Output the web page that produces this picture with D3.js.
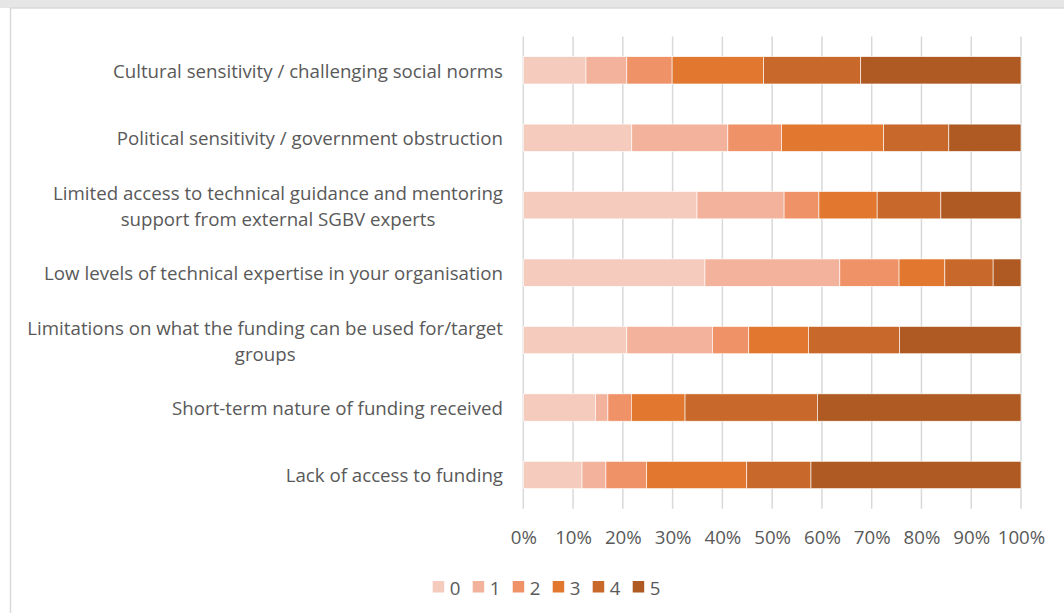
<!DOCTYPE html>
<html>
<head>
<meta charset="utf-8">
<script src="https://cdn.jsdelivr.net/npm/d3@7"></script>
<style>
  html, body { margin: 0; padding: 0; background: #fff; }
  svg { display: block; }
  text { font-family: "Open Sans", Lato, sans-serif; fill: #595959; }
</style>
</head>
<body>
<svg id="chart" width="1064" height="613"></svg>
<script>
// Barriers, top to bottom; each label split into its display lines
const categories = [
  ["Cultural sensitivity / challenging social norms"],
  ["Political sensitivity / government obstruction"],
  ["Limited access to technical guidance and mentoring", "support from external SGBV experts"],
  ["Low levels of technical expertise in your organisation"],
  ["Limitations on what the funding can be used for/target", "groups"],
  ["Short-term nature of funding received"],
  ["Lack of access to funding"]
];

// Share of responses (%) for each rating, one array per rating
const score0 = [12.6, 21.8, 34.9, 36.5, 20.8, 14.5, 11.8];
const score1 = [8.2, 19.3, 17.5, 27.1, 17.2, 2.5, 4.8];
const score2 = [9.1, 10.8, 7.0, 11.9, 7.3, 4.7, 8.2];
const score3 = [18.4, 20.5, 11.7, 9.2, 12.0, 10.8, 20.1];
const score4 = [19.5, 13.1, 12.8, 9.7, 18.3, 26.6, 12.9];
const score5 = [32.2, 14.5, 16.1, 5.6, 24.4, 40.9, 42.2];

const seriesNames = ["0", "1", "2", "3", "4", "5"];
const seriesValues = [score0, score1, score2, score3, score4, score5];
const tickValues = [0, 0.1, 0.2, 0.3, 0.4, 0.5, 0.6, 0.7, 0.8, 0.9, 1.0];

const colors = ["#f5cbbd", "#f2b29b", "#f09268", "#e2782f", "#c8682a", "#ae5a22"];

const svg = d3.select("#chart");
const W = 1064, H = 613;
const FONT = "'Open Sans', Lato, sans-serif";

// window chrome strip and chart frame
svg.append("rect").attr("x", 0).attr("y", 0).attr("width", W).attr("height", 8).attr("fill", "#e6e6e6");
svg.append("rect").attr("x", 10.5).attr("y", 8).attr("width", W + 20).attr("height", H + 20)
  .attr("fill", "#fff").attr("stroke", "#d9d9d9").attr("stroke-width", 1.5);

const rows = categories.map((lines, i) => {
  const r = { key: i, lines };
  seriesNames.forEach((s, j) => { r[s] = seriesValues[j][i]; });
  return r;
});

const x = d3.scaleLinear().domain([0, 1]).range([523.3, 1021]);
const y = d3.scaleBand().domain(rows.map(d => d.key)).range([36.6, 508.7])
  .paddingInner(0.595).paddingOuter(0.2975);

// vertical gridlines
svg.append("g").selectAll("line").data(tickValues).join("line")
  .attr("x1", d => x(d)).attr("x2", d => x(d))
  .attr("y1", 36.6).attr("y2", 508.7)
  .attr("stroke", "#d9d9d9").attr("stroke-width", 1.5);

// stacked 100% bars
const stack = d3.stack().keys(seriesNames).offset(d3.stackOffsetExpand);
const layers = stack(rows);

svg.append("g").selectAll("g").data(layers).join("g")
  .attr("fill", (d, i) => colors[i])
  .selectAll("rect").data(d => d).join("rect")
  .attr("x", d => x(d[0]))
  .attr("width", d => x(d[1]) - x(d[0]))
  .attr("y", d => y(d.data.key))
  .attr("height", y.bandwidth())
  .attr("stroke", "#fff").attr("stroke-width", 0.6);

const fs = 18.7, lh = 26;

// x axis tick labels
const xAxis = d3.axisBottom(x).tickValues(tickValues).tickFormat(d3.format(".0%")).tickSize(0).tickPadding(0);
const gx = svg.append("g").attr("transform", "translate(0,530.5)").call(xAxis);
gx.select(".domain").remove();
gx.selectAll("text").attr("font-size", fs).attr("fill", "#595959").style("font-family", FONT);

// category labels, right-aligned block with centred lines
const labelRight = 503;
const lg = svg.append("g");
rows.forEach(r => {
  const cy = y(r.key) + y.bandwidth() / 2;
  const g = lg.append("g");
  const n = r.lines.length;
  const texts = r.lines.map((ln, k) =>
    g.append("text").attr("font-size", fs).attr("dominant-baseline", "central")
      .attr("y", cy + (k - (n - 1) / 2) * lh).text(ln));
  const widths = texts.map(t => t.node().getComputedTextLength());
  const maxW = d3.max(widths);
  texts.forEach(t => t.attr("text-anchor", "middle").attr("x", labelRight - maxW / 2));
});

// legend
const legend = svg.append("g").attr("transform", "translate(432.7,581)");
seriesNames.forEach((s, i) => {
  const g = legend.append("g").attr("transform", `translate(${i * 40},0)`);
  g.append("rect").attr("width", 11.5).attr("height", 11.5).attr("fill", colors[i]);
  g.append("text").attr("x", 17).attr("y", 6).attr("dominant-baseline", "central")
    .attr("font-size", fs).text(s);
});
</script>
</body>
</html>
